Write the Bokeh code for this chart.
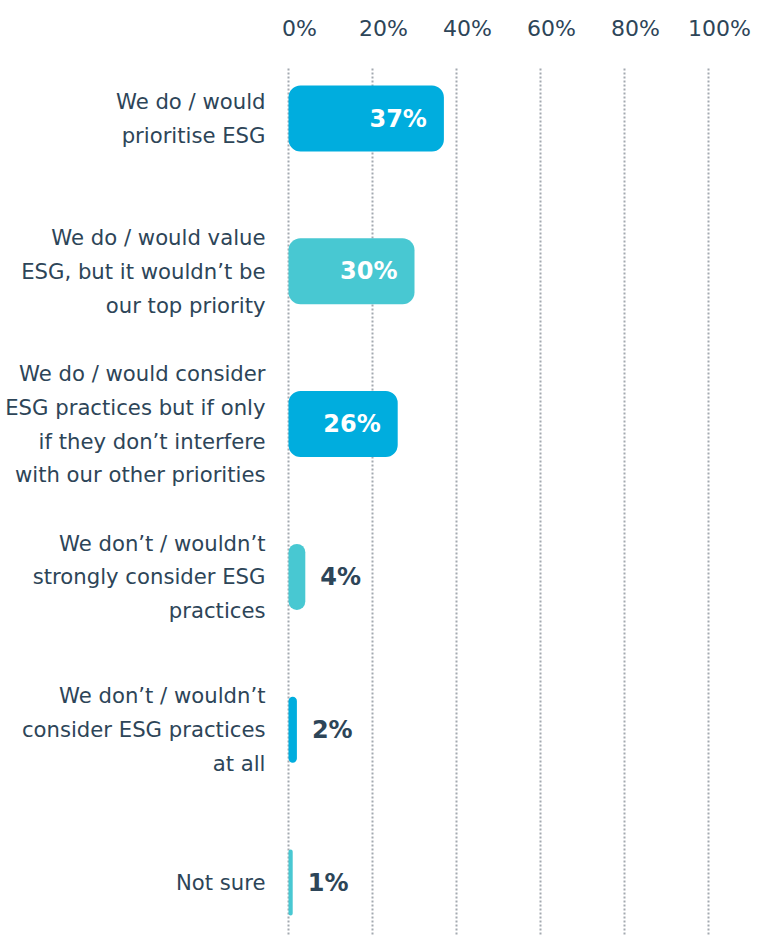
from bokeh.plotting import figure
from bokeh.models import ColumnDataSource, LabelSet, Range1d
from bokeh.core.properties import value
from bokeh.embed import file_html
from bokeh.resources import INLINE

# ---- data ----
categories = [
    "We do / would\nprioritise ESG",
    "We do / would value\nESG, but it wouldn\u2019t be\nour top priority",
    "We do / would consider\nESG practices but if only\nif they don\u2019t interfere\nwith our other priorities",
    "We don\u2019t / wouldn\u2019t\nstrongly consider ESG\npractices",
    "We don\u2019t / wouldn\u2019t\nconsider ESG practices\nat all",
    "Not sure",
]
values = [37, 30, 26, 4, 2, 1]
tick_values = [0, 20, 40, 60, 80, 100]
tick_labels = ["0%", "20%", "40%", "60%", "80%", "100%"]

# ---- style / layout (pixels) ----
BLUE = "#00ADDE"
TEAL = "#48C8D2"
bar_colors = [BLUE, TEAL, BLUE, TEAL, BLUE, TEAL]
TEXT = "#2D4558"
FONT = "DejaVu Sans"

W, H = 758, 935
X0_PX = 288          # pixel of 0%
PX_PER_PCT = 4.2     # pixels per percent
FIRST_PX = 118       # pixel centre of first bar
ROW_PX = 152.8       # pixel distance between bars
GRID_TOP_PX = 68     # where gridlines start
TICK_PX = 27.5       # centre of tick labels
BAR_PX = 66          # bar thickness
LINE_PX = 33.8       # label line spacing

n = len(categories)
x_start = -X0_PX / PX_PER_PCT
x_end = (W - X0_PX) / PX_PER_PCT
y_top = -FIRST_PX / ROW_PX
y_bottom = (H - FIRST_PX) / ROW_PX

def ypx(px):
    return (px - FIRST_PX) / ROW_PX

p = figure(width=W, height=H,
           x_range=Range1d(x_start, x_end),
           y_range=Range1d(y_bottom, y_top),
           output_backend="svg", toolbar_location=None,
           x_axis_location=None, y_axis_location=None,
           min_border=0, min_border_left=0, min_border_right=0,
           min_border_top=0, min_border_bottom=0)
p.outline_line_color = None
p.background_fill_color = "white"
p.border_fill_color = "white"
p.xgrid.visible = False
p.ygrid.visible = False

# dotted vertical gridlines
p.segment(x0=tick_values, x1=tick_values,
          y0=[ypx(GRID_TOP_PX)] * len(tick_values),
          y1=[y_bottom] * len(tick_values),
          line_color="#A3A9B0", line_width=2, line_dash="2 2")

# bars
src = ColumnDataSource(dict(y=list(range(n)), v=values, c=bar_colors))
p.hbar(y="y", left=0, right="v", height=BAR_PX / ROW_PX, fill_color="c",
       line_color=None, border_radius=12, source=src)

# value labels
inside = [i for i, v in enumerate(values) if v >= 10]
outside = [i for i, v in enumerate(values) if v < 10]
src_in = ColumnDataSource(dict(y=inside, v=[values[i] for i in inside],
                               t=[f"{values[i]}%" for i in inside]))
src_out = ColumnDataSource(dict(y=outside, v=[values[i] for i in outside],
                                t=[f"{values[i]}%" for i in outside]))
p.add_layout(LabelSet(x="v", y="y", text="t", source=src_in, x_offset=-17,
                      text_align="right", text_baseline="middle",
                      text_color="white", text_font=value(FONT),
                      text_font_style="bold", text_font_size="24px"))
p.add_layout(LabelSet(x="v", y="y", text="t", source=src_out, x_offset=15,
                      text_align="left", text_baseline="middle",
                      text_color=TEXT, text_font=value(FONT),
                      text_font_style="bold", text_font_size="24px"))

# category labels (one label per line)
lx, ly, lt = [], [], []
line_gap = LINE_PX / ROW_PX
for idx, cat in enumerate(categories):
    lines = cat.split("\n")
    k = len(lines)
    for j, ln in enumerate(lines):
        lx.append(0)
        ly.append(idx + (j - (k - 1) / 2) * line_gap)
        lt.append(ln)
p.add_layout(LabelSet(x="x", y="y", text="t",
                      source=ColumnDataSource(dict(x=lx, y=ly, t=lt)),
                      x_offset=-23, text_align="right", text_baseline="middle",
                      text_color=TEXT, text_font=value(FONT),
                      text_font_size="21.2px"))

# top tick labels
p.add_layout(LabelSet(x="x", y="y", text="t",
                      source=ColumnDataSource(dict(x=tick_values,
                                                   y=[ypx(TICK_PX)] * len(tick_values),
                                                   t=tick_labels)),
                      x_offset=11, text_align="center", text_baseline="middle",
                      text_color=TEXT, text_font=value(FONT),
                      text_font_size="22px"))

open("out.html", "w").write(file_html(p, INLINE))
